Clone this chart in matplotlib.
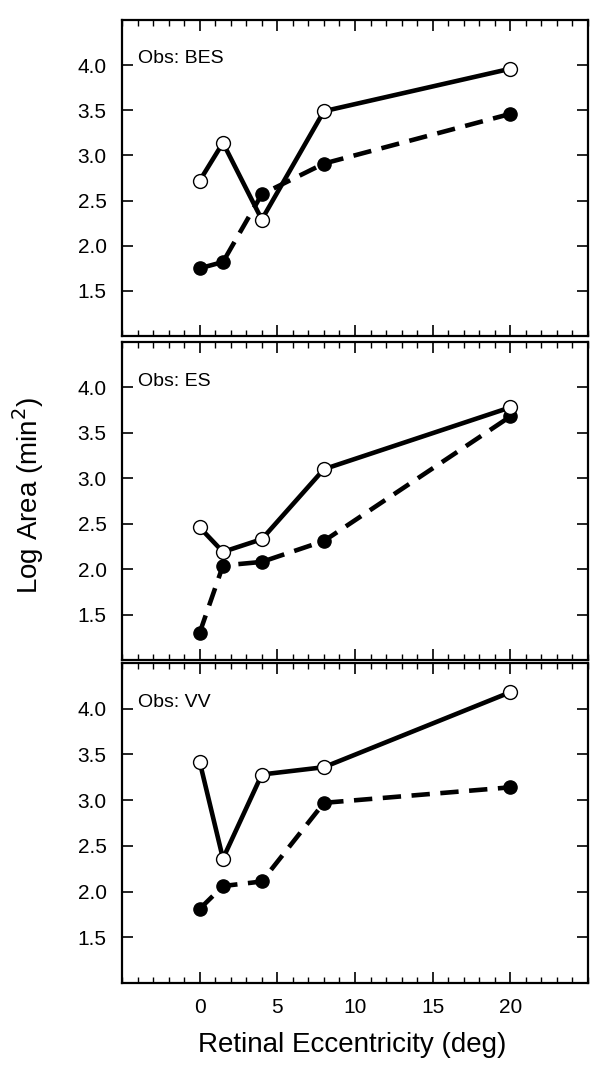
import matplotlib
matplotlib.use("Agg")
import matplotlib.pyplot as plt
from matplotlib.ticker import MultipleLocator

plt.rcParams['font.family'] = ['Liberation Sans', 'DejaVu Sans']

# ── data ───────────────────────────────────────────────────────────
eccentricity = [0, 1.5, 4, 8, 20]
observers = ["BES", "ES", "VV"]
open_vals = [
    [2.72, 3.14, 2.29, 3.49, 3.96],
    [2.46, 2.19, 2.33, 3.10, 3.78],
    [3.42, 2.36, 3.28, 3.36, 4.18],
]
filled_vals = [
    [1.75, 1.82, 2.57, 2.91, 3.46],
    [1.30, 2.04, 2.08, 2.31, 3.68],
    [1.81, 2.06, 2.11, 2.97, 3.14],
]
x_ticks = [0, 5, 10, 15, 20]
y_ticks = [1.5, 2.0, 2.5, 3.0, 3.5, 4.0]

fig = plt.figure(figsize=(6.04, 10.75), dpi=100)

left, right = 0.202, 0.9735
panels = [(0.6874, 0.9814), (0.386, 0.6819), (0.0856, 0.3833)]

for i, (name, ov, fv) in enumerate(zip(observers, open_vals, filled_vals)):
    b, t = panels[i]
    ax = fig.add_axes([left, b, right - left, t - b])

    # filled circles, dashed line
    ln, = ax.plot(eccentricity, fv, color="black", lw=3.3, ls="--",
                  marker="o", ms=9.5, mfc="black", mec="black", zorder=2)
    ln.set_dashes((4, 2.3))
    # open circles, solid line
    ax.plot(eccentricity, ov, color="black", lw=3.3, ls="-",
            marker="o", ms=10, mfc="white", mec="black", mew=1.0, zorder=3)

    ax.set_xlim(-5, 25)
    ax.set_ylim(1.0, 4.5)
    ax.set_xticks(x_ticks)
    ax.xaxis.set_minor_locator(MultipleLocator(1))
    ax.set_yticks(y_ticks)
    ax.set_yticklabels([f"{v:.1f}" for v in y_ticks])

    ax.tick_params(axis="both", which="major", direction="in", length=8,
                   width=1.2, top=True, right=True, labelsize=15, pad=11)
    ax.tick_params(axis="x", which="minor", direction="in", length=4.5,
                   width=1.0, top=True, bottom=True)
    for s in ax.spines.values():
        s.set_linewidth(1.6)

    if i < 2:
        ax.tick_params(axis="x", labelbottom=False)

    ax.text(0.034, 0.877, f"Obs: {name}", transform=ax.transAxes,
            fontsize=14, ha="left", va="center")

fig.text(28 / 604, 1 - 495 / 1075, "Log Area (min$^2$)", rotation=90,
         fontsize=20, ha="center", va="center")
fig.text(352 / 604, 1 - 1045 / 1075, "Retinal Eccentricity (deg)",
         fontsize=20, ha="center", va="center")

fig.savefig("out.png", dpi=100)
